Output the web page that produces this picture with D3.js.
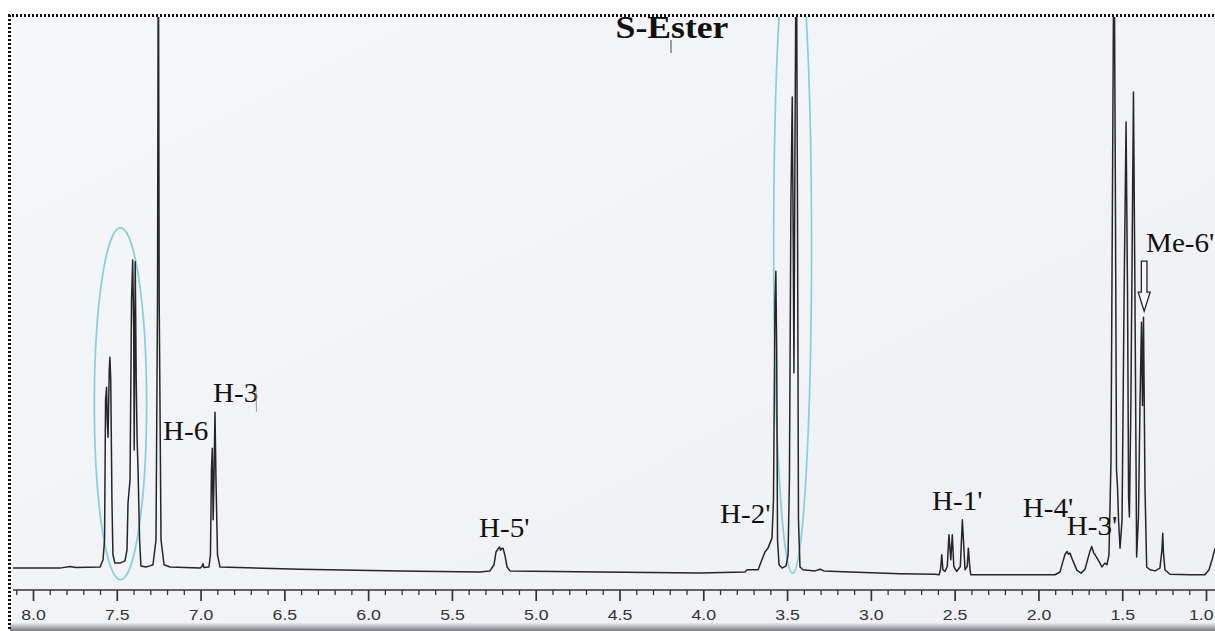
<!DOCTYPE html>
<html><head><meta charset="utf-8">
<script src="https://cdn.jsdelivr.net/npm/d3@7/dist/d3.min.js"></script>
<style>html,body{margin:0;padding:0;background:#fff;}svg{display:block;}</style>
</head><body><div id="chart"></div>
<script>
// ---- data (chemical shift in ppm, relative intensity) ----
const tracePpm = [8.119,7.839,7.779,7.743,7.600,
 7.582,7.573,7.567,7.561,7.557,7.552,7.545,7.541,7.536,7.529,7.523,7.511,7.481,7.451,7.439,7.433,7.421,
 7.412,7.405,7.399,7.396,7.390,7.384,7.379,7.373,7.364,7.356,7.326,7.302,
 7.284,7.266,7.257,7.252,7.247,7.236,7.218,7.182,7.003,6.992,6.986,6.980,6.950,
 6.941,6.935,6.930,6.925,6.920,6.914,6.908,6.899,6.884,
 6.407,5.810,5.333,5.273,
 5.249,5.237,5.222,5.216,5.210,5.201,5.195,5.183,5.171,5.153,
 4.616,4.020,3.751,3.739,3.673,
 3.650,3.632,3.614,3.602,3.590,3.581,3.572,3.567,3.562,3.557,3.548,3.530,3.506,3.494,3.486,3.477,3.469,3.463,3.459,3.453,3.445,3.438,3.432,3.423,3.405,3.333,3.303,3.280,3.124,2.826,
 2.617,2.593,2.584,2.577,2.570,2.558,2.544,2.534,2.523,2.514,2.505,2.488,2.466,2.454,2.438,2.425,2.418,2.410,2.404,2.379,2.229,1.901,
 1.871,1.853,1.841,1.829,1.821,1.812,1.794,1.770,1.746,
 1.722,1.704,1.692,1.682,1.671,1.662,1.650,1.633,1.621,1.603,1.591,1.579,
 1.567,1.556,1.549,1.541,1.534,1.528,1.522,1.513,1.501,1.489,1.477,1.468,1.462,1.457,1.448,1.433,1.424,1.414,1.403,1.394,1.385,1.379,1.373,1.364,1.354,1.334,1.304,1.275,1.263,1.258,1.254,1.245,1.215,1.095,1.006,0.982,0.964,0.946];
const traceIntensity = [0.7,0.7,1.0,0.8,0.9,
 2.2,5.8,31.0,33.3,27.4,24.3,36.4,38.7,34.6,13.0,3.1,1.6,1.6,2.0,4.0,12.4,16.6,
 49.0,56.2,43.6,22.0,55.9,34.6,24.1,18.4,5.8,1.1,0.9,1.1,
 1.3,5.8,49.0,120,49.0,5.8,1.3,0.9,0.7,1.0,1.5,0.8,0.9,
 3.1,18.4,22.3,9.4,16.6,28.8,16.6,3.1,0.9,
 0.5,0.2,0,0.2,
 1.3,3.6,4.3,4.5,3.9,4.3,4.3,2.9,0.9,0.2,
 0,-0.2,0,0.4,0.4,
 2.2,3.6,4.3,5.2,6.1,13.0,49.0,54.2,40.0,5.8,1.3,0.7,1.1,3.1,16.6,67.0,85.6,58.0,35.9,76.0,120,67.0,9.4,0.9,0.4,0.2,0.5,0.2,0,-0.3,
 -0.4,-0.5,0.5,3.1,0.4,0.1,1.0,6.7,2.2,6.7,1.0,0.1,1.0,9.4,0.4,1.0,4.3,1.0,-0.5,-0.5,-0.5,-0.5,
 0,2.0,3.2,3.7,3.2,3.4,2.0,0.3,-0.2,
 0.5,2.5,3.8,4.6,3.5,3.1,2.5,1.6,0.9,1.6,1.3,3.1,
 20.0,80,120,70,18.4,15.3,9.4,4.3,9.4,49.0,81.1,49.0,13.5,9.9,31.0,86.5,50,2.7,10,30,45.0,30,45.9,15,0.9,0.4,0.2,0.7,4.0,7.0,3.5,0.4,-0.4,-0.5,-0.5,0.4,2.2,4.3];

const majorTicks = [8.0,7.5,7.0,6.5,6.0,5.5,5.0,4.5,4.0,3.5,3.0,2.5,2.0,1.5,1.0];
const tickLabels = ["8.0","7.5","7.0","6.5","6.0","5.5","5.0","4.5","4.0","3.5","3.0","2.5","2.0","1.5","1.0"];
const minorTicks = [8.1,7.9,7.8,7.7,7.6,7.4,7.3,7.2,7.1,6.9,6.8,6.7,6.6,6.4,6.3,6.2,6.1,5.9,5.8,5.7,5.6,5.4,5.3,5.2,5.1,4.9,4.8,4.7,4.6,4.4,4.3,4.2,4.1,3.9,3.8,3.7,3.6,3.4,3.3,3.2,3.1,2.9,2.8,2.7,2.6,2.4,2.3,2.2,2.1,1.9,1.8,1.7,1.6,1.4,1.3,1.2,1.1];

const labelText = ["H-6","H-3","H-5'","H-2'","H-1'","H-4'","H-3'","Me-6'"];
const labelPpm  = [7.224,6.926,5.338,3.900,2.635,2.094,1.831,1.358];
const labelInt  = [23.8,30.7,6.3,8.8,11.2,10.0,6.7,57.7];

const title = "S-Ester";
// highlighted regions (ellipses): centre ppm, half-width ppm, centre intensity, half-height intensity
const ringPpm = [7.478, 3.467];
const ringHalfPpm = [0.156, 0.113];
const ringInt = [30.3, 58.9];
const ringHalfInt = [31.7, 59.1];
// arrow pointing at Me-6'
const arrowPpm = 1.369, arrowTopInt = 56.0, arrowTipInt = 47.0;

// ---- drawing ----
const W = 1215, H = 631;
const svg = d3.select("#chart").append("svg").attr("width", W).attr("height", H);

const x = d3.scaleLinear().domain([8, 1]).range([33, 1206]);
const y = d3.scaleLinear().domain([0, 100]).range([572, 17]);

// background (scanned paper)
svg.append("rect").attr("width", W).attr("height", H).attr("fill", "#ffffff");
const bg = svg.append("defs");
const lg = bg.append("linearGradient").attr("id","paper").attr("x1","0").attr("y1","0").attr("x2","1").attr("y2","1");
lg.append("stop").attr("offset","0").attr("stop-color","#f6f7fa");
lg.append("stop").attr("offset","1").attr("stop-color","#eef0f4");
const sh = bg.append("linearGradient").attr("id","shade").attr("x1","0").attr("y1","0").attr("x2","0").attr("y2","1");
sh.append("stop").attr("offset","0").attr("stop-color","#e9eaee");
sh.append("stop").attr("offset","1").attr("stop-color","#7a7b80");
bg.append("clipPath").attr("id","plotclip").append("rect").attr("x",10).attr("y",17).attr("width",W-10).attr("height",573);
svg.append("rect").attr("x",10).attr("y",16).attr("width",W-10).attr("height",H-16).attr("fill","url(#paper)");
svg.append("rect").attr("x",10).attr("y",623).attr("width",W-10).attr("height",8).attr("fill","url(#shade)");

// ellipses
const rings = ringPpm.map((p,i)=>({p, hp: ringHalfPpm[i], c: ringInt[i], hc: ringHalfInt[i]}));
svg.append("g").attr("clip-path","url(#plotclip)").selectAll("ellipse").data(rings).join("ellipse")
  .attr("cx", d => x(d.p))
  .attr("cy", d => y(d.c))
  .attr("rx", d => Math.abs(x(d.p + d.hp) - x(d.p)))
  .attr("ry", d => Math.abs(y(d.c + d.hc) - y(d.c)))
  .attr("fill","none").attr("stroke","#86cfdc").attr("stroke-width",1.7);

// spectrum trace
const trace = tracePpm.map((p,i)=>[p, traceIntensity[i]]);
svg.append("path").datum(trace)
  .attr("clip-path","url(#plotclip)")
  .attr("d", d3.line().x(d=>x(d[0])).y(d=>y(d[1])))
  .attr("fill","none").attr("stroke","#262626").attr("stroke-width",1.5).attr("stroke-linejoin","round");

// axis
const axisY = 590;
const gAx = svg.append("g").attr("transform",`translate(0,${axisY})`);
gAx.append("line").attr("x1",13).attr("x2",W).attr("y1",0).attr("y2",0).attr("stroke","#333").attr("stroke-width",1.5);
const major = d3.axisBottom(x).tickValues(majorTicks).tickSize(11).tickPadding(8)
  .tickFormat((d,i)=>tickLabels[i]);
const gMaj = gAx.append("g").call(major);
gMaj.select(".domain").remove();
gMaj.selectAll(".tick line").attr("stroke","#333").attr("stroke-width",1.7);
gMaj.selectAll(".tick text").attr("fill","#333").attr("font-family","Liberation Sans, Arial, sans-serif")
  .attr("font-size",15).attr("transform","scale(1.18,1)");
// keep the last label inside the picture's right edge
gMaj.selectAll(".tick text").filter((d,i,n)=>i===n.length-1)
  .attr("text-anchor","end").attr("x",6);
const minor = d3.axisBottom(x).tickValues(minorTicks).tickSize(5).tickFormat("");
const gMin = gAx.append("g").call(minor);
gMin.select(".domain").remove();
gMin.selectAll(".tick line").attr("stroke","#333").attr("stroke-width",1.3);

// peak labels
svg.append("g").selectAll("text").data(labelText).join("text")
  .attr("transform",(d,i)=>`translate(${x(labelPpm[i])},${y(labelInt[i])}) scale(1.04,1)`)
  .attr("font-family","Liberation Serif, Times New Roman, serif").attr("font-size",28).attr("fill","#111")
  .text(d=>d);
// stray prime mark next to H-3
svg.append("line").attr("x1",x(6.926)+43).attr("x2",x(6.926)+43.5).attr("y1",y(30.7)-12).attr("y2",y(30.7)+10)
  .attr("stroke","#999").attr("stroke-width",1);

// arrow
const ax = x(arrowPpm), at = y(arrowTopInt), ap = y(arrowTipInt);
const headY = at + (ap - at)*0.62;
svg.append("path")
  .attr("d",`M${ax-2.8},${at} L${ax+2.8},${at} L${ax+2.8},${headY} L${ax+6},${headY} L${ax},${ap} L${ax-6},${headY} L${ax-2.8},${headY} Z`)
  .attr("fill","#f7f8fa").attr("stroke","#222").attr("stroke-width",1.3);

// title
svg.append("text").attr("transform","translate(672,38) scale(1.15,1)")
  .attr("text-anchor","middle").attr("font-family","Liberation Serif, Times New Roman, serif")
  .attr("font-weight","bold").attr("font-size",31).attr("fill","#111").text(title);
svg.append("line").attr("x1",671).attr("x2",671).attr("y1",40).attr("y2",53).attr("stroke","#444").attr("stroke-width",1);

// dotted frame
svg.append("rect").attr("x",0).attr("y",0).attr("width",W).attr("height",14).attr("fill","#fff");
svg.append("line").attr("x1",8).attr("x2",W).attr("y1",15.5).attr("y2",15.5)
  .attr("stroke","#111").attr("stroke-width",3).attr("stroke-dasharray","2,2");
svg.append("line").attr("x1",9.5).attr("x2",9.5).attr("y1",15).attr("y2",H)
  .attr("stroke","#111").attr("stroke-width",3).attr("stroke-dasharray","2,2");
</script></body></html>
